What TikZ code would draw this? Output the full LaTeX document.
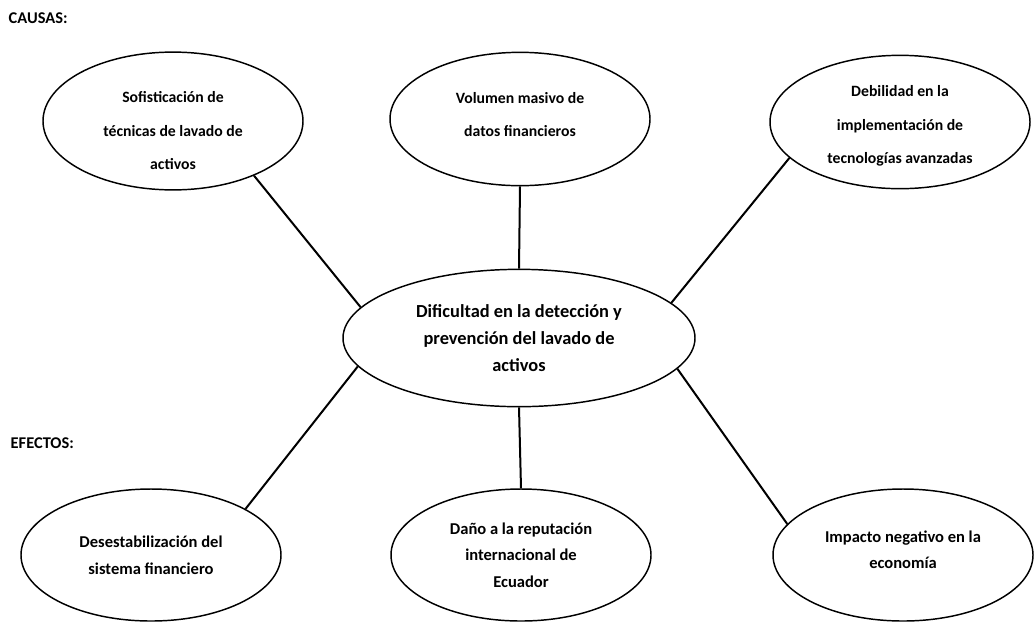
\documentclass[tikz,border=0pt]{standalone}
\usepackage{fontspec}
\setmainfont{Carlito}
\usetikzlibrary{shapes.geometric}
\tikzset{every node/.style={ellipse,draw,line width=1.1pt,inner sep=0pt,align=center}}
\tikzset{causa/.style={minimum width=195pt,minimum height=100pt,font=\bfseries\fontsize{11.8}{25}\selectfont}}
\tikzset{efecto/.style={minimum width=195pt,minimum height=99pt,font=\bfseries\fontsize{12.4}{20}\selectfont}}
\tikzset{prob/.style={minimum width=264pt,minimum height=103pt,font=\bfseries\fontsize{13.8}{20}\selectfont}}
\tikzset{lbl/.style={rectangle,draw=none,anchor=west,font=\bfseries\fontsize{12.3}{14}\selectfont}}

\begin{document}
\begin{tikzpicture}[x=0.75pt,y=-0.75pt,line width=1.5pt]
      \useasboundingbox (0,0) rectangle (1034,622);
      \node[lbl] (causas) at (8,18) {CAUSAS:};
      \node[lbl] (efectos) at (10,443) {EFECTOS:};
      \node[causa,text height=73pt] (C1) at (173,121) {Sofisticación de\\técnicas de lavado de\\activos};
      \node[causa,text depth=7pt] (C2) at (520,119) {Volumen masivo de\\datos financieros};
      \node[causa,text height=64pt] (C3) at (900,122) {Debilidad en la\\implementación de\\tecnologías avanzadas};
      \node[prob] (P) at (519,338) {Dificultad en la detección y\\prevención del lavado de\\activos};
      \node[efecto] (E1) at (151,555) {Desestabilización del\\sistema financiero};
      \node[efecto] (E2) at (521,555) {Daño a la reputación\\internacional de\\Ecuador};
      \node[efecto,text depth=8pt] (E3) at (903,555) {Impacto negativo en la\\economía};
      \draw (C1.-34) -- (P.169);
      \draw (C2.south) -- (P.north);
      \draw (C3.198) -- (P.13);
      \draw (P.190) -- (E1.26);
      \draw (P.south) -- (E2.north);
      \draw (P.-11) -- (E3.165);
    \end{tikzpicture}
\end{document}
